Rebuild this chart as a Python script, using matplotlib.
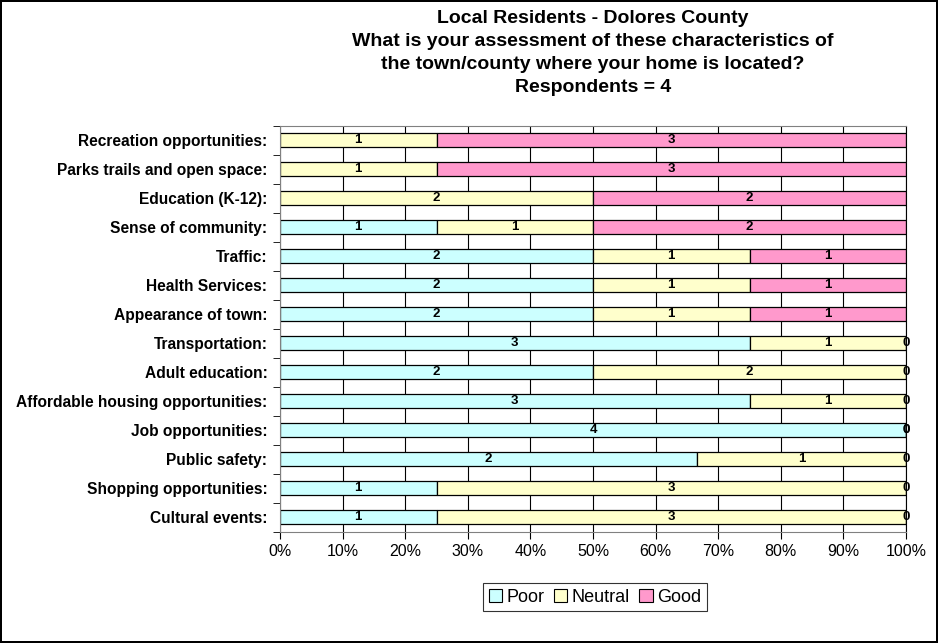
import matplotlib.pyplot as plt
import numpy as np
from matplotlib.patches import Patch

categories = [
    "Recreation opportunities:",
    "Parks trails and open space:",
    "Education (K-12):",
    "Sense of community:",
    "Traffic:",
    "Health Services:",
    "Appearance of town:",
    "Transportation:",
    "Adult education:",
    "Affordable housing opportunities:",
    "Job opportunities:",
    "Public safety:",
    "Shopping opportunities:",
    "Cultural events:",
]
poor = [0, 0, 0, 1, 2, 2, 2, 3, 2, 3, 4, 2, 1, 1]
neutral = [1, 1, 2, 1, 1, 1, 1, 1, 2, 1, 0, 1, 3, 3]
good = [3, 3, 2, 2, 1, 1, 1, 0, 0, 0, 0, 0, 0, 0]

series_names = ["Poor", "Neutral", "Good"]
series_colors = ["#CCFFFF", "#FFFFCC", "#FF99CC"]

plt.rcParams["font.family"] = ["Liberation Sans", "DejaVu Sans"]

fig = plt.figure(figsize=(9.38, 6.43), dpi=100)
fig.patch.set_edgecolor("black")
fig.patch.set_linewidth(1.5)
ax = fig.add_axes([280 / 938, 1 - 531.5 / 643, 626 / 938, 406 / 643])

counts = np.array([poor, neutral, good], dtype=float)
totals = counts.sum(axis=0)
shares = counts / totals
y = np.arange(len(categories))

ax.set_axisbelow(True)
ax.grid(axis="x", color="black", linewidth=0.8)

left = np.zeros(len(categories))
for i, (name, color) in enumerate(zip(series_names, series_colors)):
    ax.barh(y, shares[i], left=left, height=0.5, color=color,
            edgecolor="black", linewidth=0.9, label=name)
    for j in range(len(categories)):
        val = int(counts[i, j])
        if val == 0 and i == 0:
            continue
        ax.text(left[j] + shares[i, j] / 2, y[j], str(val), ha="center",
                va="center", fontsize=9.5, fontweight="bold")
    left = left + shares[i]

ax.set_xlim(0, 1)
ax.set_ylim(len(categories) - 0.5, -0.5)
ax.set_xticks(np.linspace(0, 1, 11))
ax.set_xticklabels([f"{p}%" for p in range(0, 101, 10)], fontsize=11.5)
ax.set_yticks(y)
ax.set_yticklabels(categories, fontsize=11.2, fontweight="bold")
ax.set_yticks(np.arange(-0.5, len(categories), 1), minor=True)
ax.tick_params(axis="y", which="major", length=0, pad=9)
ax.tick_params(axis="y", which="minor", length=5, color="black")
ax.tick_params(axis="x", length=5, pad=4)
for s in ["top", "left", "bottom"]:
    ax.spines[s].set_color("#808080")
ax.spines["right"].set_color("black")

fig.text(593 / 938, 1 - 10 / 643,
         "Local Residents - Dolores County\n"
         "What is your assessment of these characteristics of\n"
         "the town/county where your home is located?\n"
         "Respondents = 4",
         ha="center", va="top", fontsize=14, fontweight="bold", linespacing=1.47)

handles = [Patch(facecolor=c, edgecolor="black", linewidth=0.8) for c in series_colors]
leg = fig.legend(handles, series_names, loc="center", bbox_to_anchor=(595 / 938, 1 - 597 / 643),
                 ncol=3, fontsize=13, frameon=True, fancybox=False, edgecolor="black",
                 handlelength=0.75, handleheight=0.75, handletextpad=0.25, columnspacing=0.5,
                 borderpad=0.3)
leg.get_frame().set_linewidth(0.8)

plt.savefig("out.png", dpi=100)
